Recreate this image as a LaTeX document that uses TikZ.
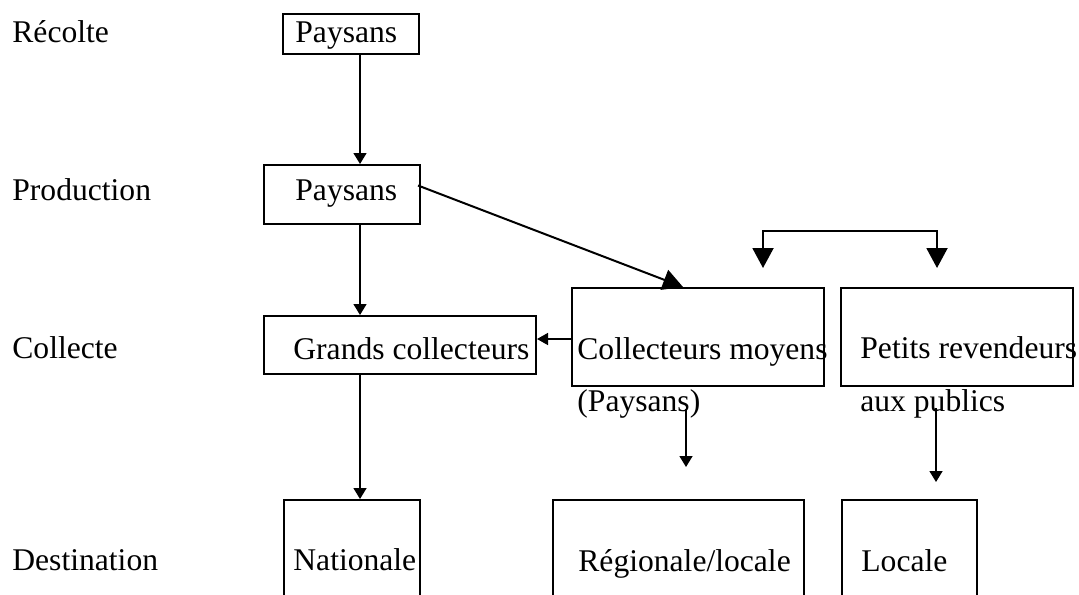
\documentclass[tikz,border=0pt]{standalone}
\usepackage{fontspec}
\setmainfont{Liberation Serif}
\usepackage{tikz}
\usetikzlibrary{arrows.meta,calc}

\begin{document}
\begin{tikzpicture}[x=0.5pt, y=-0.5pt,
  box/.style={draw, line width=1pt, inner sep=0pt, anchor=north west},
  txt/.style={inner sep=0pt, anchor=base west, font=\fontsize{15.8}{18}\selectfont},
  arr/.style={-{Triangle[width=6.5pt, length=5.5pt]}, line width=0.75pt},
  bigarr/.style={-{Triangle[width=10.5pt, length=10pt]}, line width=1pt}]
\useasboundingbox (0,0) rectangle (1079,594);
\clip (0,0) rectangle (1079,594);
% Stages on the left
\node[txt] (recolte) at (12,42) {Récolte};
\node[txt] (prod) at (12,200) {Production};
\node[txt] (collecte) at (12,358) {Collecte};
\node[txt] (dest) at (12,570) {Destination};
% Boxes
\node[box, minimum width=68pt, minimum height=20pt] (p1) at (282,13) {};
\node[box, minimum width=78pt, minimum height=29.5pt] (p2) at (263,164) {};
\node[box, minimum width=136pt, minimum height=29pt] (gc) at (263,315) {};
\node[box, minimum width=126pt, minimum height=49pt] (cm) at (571,287) {};
\node[box, minimum width=116pt, minimum height=49pt] (pr) at (840,287) {};
\node[box, minimum width=68pt, minimum height=75pt] (nat) at (283,499) {};
\node[box, minimum width=125.5pt, minimum height=75pt] (reg) at (552,499) {};
\node[box, minimum width=67.5pt, minimum height=75pt] (loc) at (841,499) {};
% Texts
\node[txt] (p1txt) at (295,42) {Paysans};
\node[txt] (p2txt) at (295,200) {Paysans};
\node[txt] (gctxt) at (293,359) {Grands collecteurs};
\node[txt] (cmtxt) at (577,359) {Collecteurs moyens};
\node[txt] (prtxt) at (860,358) {Petits revendeurs};
\node[txt] (cmsub) at (577,411) {(Paysans)};
\node[txt] (prsub) at (860,411) {aux publics};
\node[txt] (nattxt) at (293,570) {Nationale};
\node[txt] (regtxt) at (578,571) {Régionale/locale};
\node[txt] (loctxt) at (861,571) {Locale};
% Connectors
\coordinate (colA) at (360,0);
\coordinate (rowC) at (0,339);
\draw[arr] (p1.south -| colA) -- (p2.north -| colA);
\draw[arr] (p2.south -| colA) -- (gc.north -| colA);
\draw[arr] (gc.south -| colA) -- (nat.north -| colA);
\draw[bigarr] ($(p2.east)+(-3,-9)$) -- ($(cm.north west)+(112,0)$);
\draw[-{Triangle[width=6pt, length=5.5pt]}, line width=0.75pt] (cm.west |- rowC) -- (gc.east |- rowC);
% Bracket above
\coordinate (bl) at (763,268);
\coordinate (br) at (937,268);
\coordinate (btop) at (0,231);
\draw[{Triangle[width=10.5pt, length=10pt]}-{Triangle[width=10.5pt, length=10pt]}, line width=1pt]
  (bl) -- (bl |- btop) -- (br |- btop) -- (br);
% Down arrows to destinations
\coordinate (cmfrom) at (686,409);
\coordinate (cmto) at (686,467);
\coordinate (prfrom) at (936,408);
\coordinate (prto) at (936,482);
\draw[arr] (cmfrom) -- (cmto);
\draw[arr] (prfrom) -- (prto);
\end{tikzpicture}
\end{document}
